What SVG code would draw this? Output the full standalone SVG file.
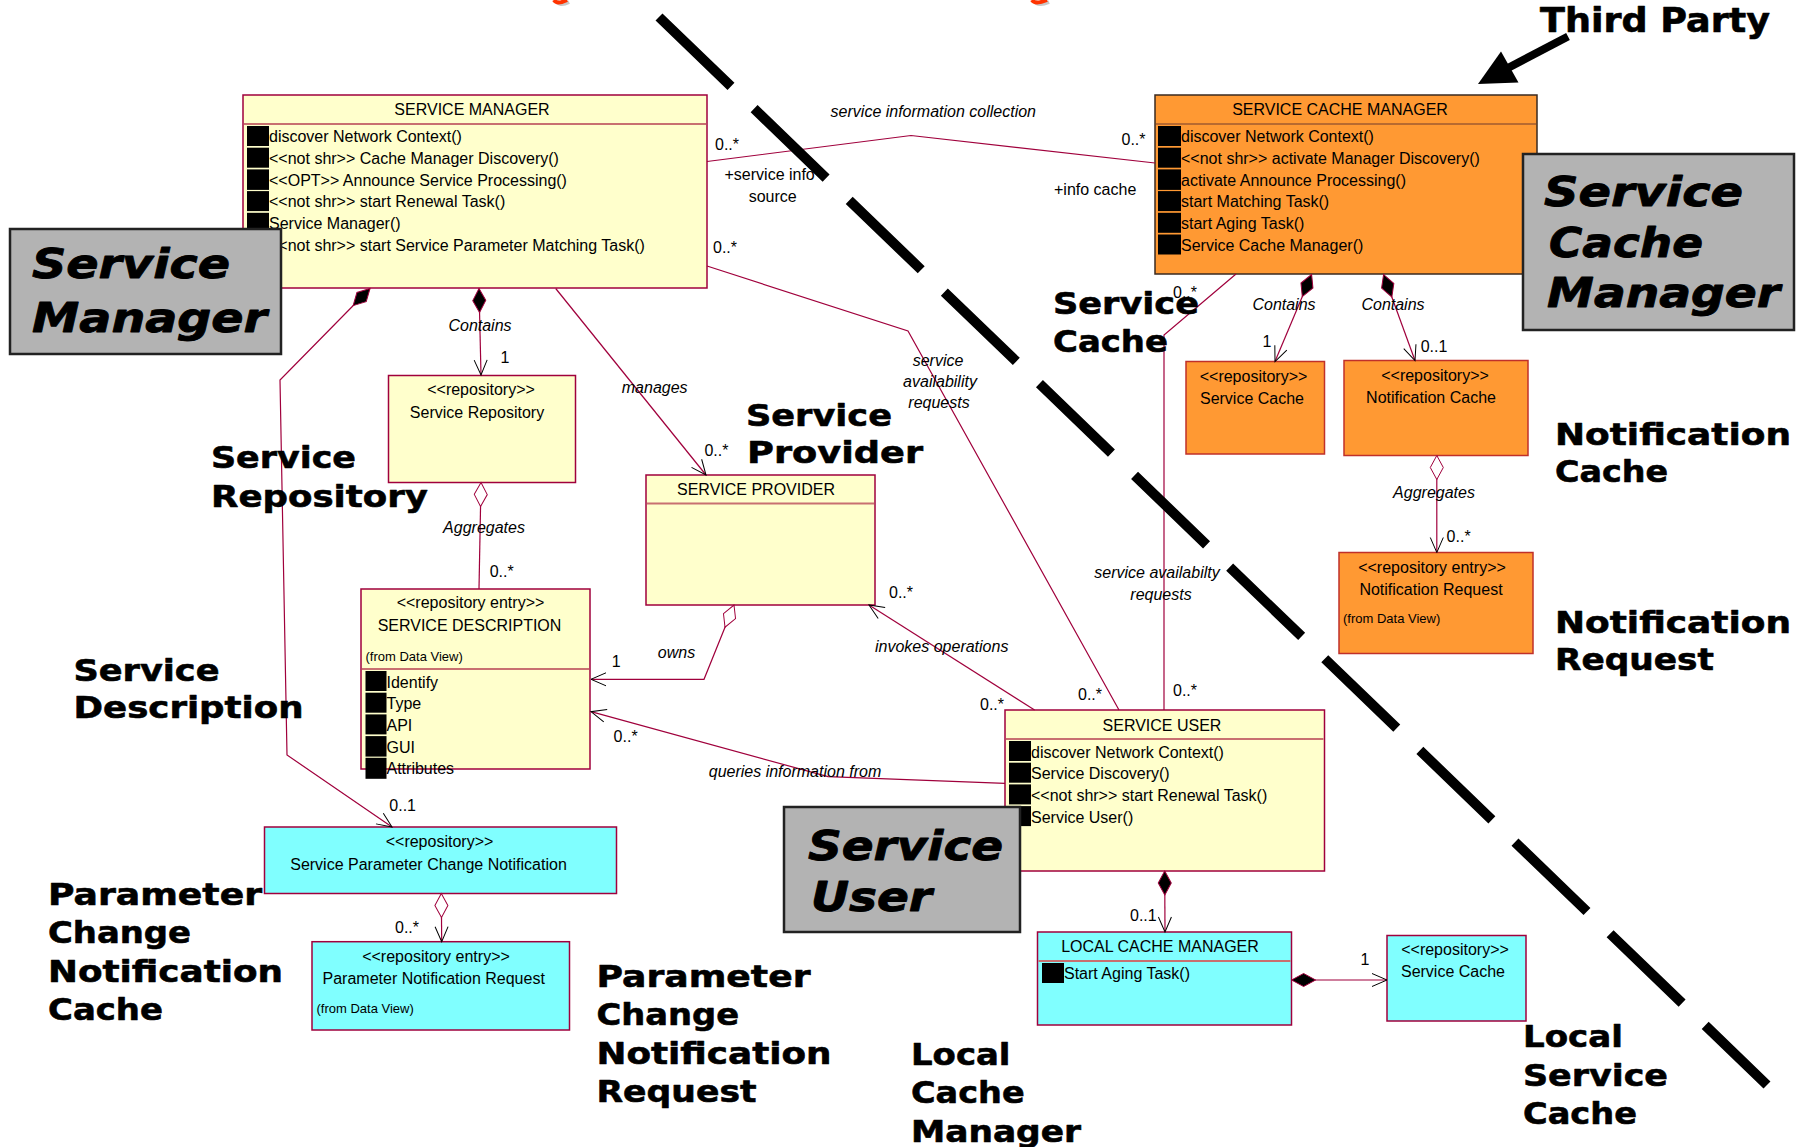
<svg xmlns="http://www.w3.org/2000/svg" width="1802" height="1147" viewBox="0 0 1802 1147">
<style>
.cls{fill:#FFFFCC;stroke:#A0003C;stroke-width:1.5}
.cyan{fill:#80FFFF;stroke:#A0003C;stroke-width:1.5}
.orng{fill:#FF9933;stroke:#C0302A;stroke-width:1.5}
.scm{fill:#FF9933;stroke:#3a2a20;stroke-width:1.5}
.hdr{stroke:#C87070;stroke-width:2}
.t{font-family:"Liberation Sans",Arial,sans-serif;font-size:16px;fill:#000}
.ti{font-style:italic}
.sm{font-size:13px}
.mid{text-anchor:middle}
.big{font-family:"DejaVu Sans",sans-serif;font-weight:bold;font-size:31px;fill:#000;stroke:#000;stroke-width:0.6px;stroke-linejoin:round}
.bigi{font-style:italic;font-size:41px;stroke-width:0.9px}
.sq{fill:#000}
.conn{fill:none;stroke:#A0003C;stroke-width:1.2}
.gray{fill:#B3B3B3;stroke:#222;stroke-width:2.5}
</style>
<defs>
<marker id="arr" markerUnits="userSpaceOnUse" orient="auto" overflow="visible" refX="0" refY="0"><path d="M-15,-6.5 L0,0 L-15,6.5" fill="none" stroke="#000" stroke-width="1"/></marker>
<marker id="dfill" markerUnits="userSpaceOnUse" orient="auto" overflow="visible" refX="0" refY="0"><path d="M0,0 L12,-6.5 L24,0 L12,6.5 Z" fill="#000" stroke="#A0003C" stroke-width="1"/></marker>
<marker id="dhol" markerUnits="userSpaceOnUse" orient="auto" overflow="visible" refX="0" refY="0"><path d="M0,0 L12,-6.5 L24,0 L12,6.5 Z" fill="#fff" stroke="#A0003C" stroke-width="1"/></marker>
</defs>
<rect width="1802" height="1147" fill="#fff"/>

<!-- top cut-off fragments -->
<path d="M556,0 Q559,7 569,2" fill="none" stroke="#C8C8C8" stroke-width="4"/>
<path d="M554,0 Q557,5 567,0" fill="none" stroke="#FF3300" stroke-width="4"/>
<path d="M1034,0 Q1037,7 1049,2" fill="none" stroke="#C8C8C8" stroke-width="4"/>
<path d="M1032,0 Q1035,5 1047,0" fill="none" stroke="#FF3300" stroke-width="4"/>

<!-- SERVICE MANAGER -->
<g id="service-manager">
<rect class="cls" x="243" y="95" width="464" height="193"/>
<line class="hdr" x1="244" y1="124" x2="706" y2="124"/>
<text class="t mid" x="472" y="115">SERVICE MANAGER</text>
<rect class="sq" x="247" y="126" width="22" height="20"/>
<rect class="sq" x="247" y="147.7" width="22" height="20"/>
<rect class="sq" x="247" y="169.4" width="22" height="20.5"/>
<rect class="sq" x="247" y="191.1" width="22" height="20"/>
<rect class="sq" x="247" y="212.8" width="22" height="20"/>
<rect class="sq" x="247" y="234.5" width="22" height="20"/>
<text class="t" x="269" y="142">discover Network Context()</text>
<text class="t" x="269" y="164">&lt;&lt;not shr&gt;&gt; Cache Manager Discovery()</text>
<text class="t" x="269" y="186">&lt;&lt;OPT&gt;&gt; Announce Service Processing()</text>
<text class="t" x="269" y="207">&lt;&lt;not shr&gt;&gt; start Renewal Task()</text>
<text class="t" x="269" y="229">Service Manager()</text>
<text class="t" x="269" y="251">&lt;&lt;not shr&gt;&gt; start Service Parameter Matching Task()</text>
</g>

<!-- SERVICE CACHE MANAGER -->
<g id="service-cache-manager">
<rect class="scm" x="1155" y="95" width="382" height="179"/>
<line x1="1156" y1="124" x2="1536" y2="124" stroke="#B86A30" stroke-width="2"/>
<text class="t mid" x="1340" y="115">SERVICE CACHE MANAGER</text>
<rect class="sq" x="1158" y="126" width="23" height="20"/>
<rect class="sq" x="1158" y="147.7" width="23" height="20"/>
<rect class="sq" x="1158" y="169.4" width="23" height="20.5"/>
<rect class="sq" x="1158" y="191.1" width="23" height="20"/>
<rect class="sq" x="1158" y="212.8" width="23" height="20"/>
<rect class="sq" x="1158" y="234.5" width="23" height="20"/>
<text class="t" x="1181" y="142">discover Network Context()</text>
<text class="t" x="1181" y="164">&lt;&lt;not shr&gt;&gt; activate Manager Discovery()</text>
<text class="t" x="1181" y="186">activate Announce Processing()</text>
<text class="t" x="1181" y="207">start Matching Task()</text>
<text class="t" x="1181" y="229">start Aging Task()</text>
<text class="t" x="1181" y="251">Service Cache Manager()</text>
</g>

<!-- Service Repository -->
<g id="service-repository">
<rect class="cls" x="388.5" y="375.5" width="187" height="107"/>
<text class="t mid" x="481" y="395">&lt;&lt;repository&gt;&gt;</text>
<text class="t mid" x="477" y="418">Service Repository</text>
</g>

<!-- SERVICE PROVIDER -->
<g id="service-provider">
<rect class="cls" x="646" y="475" width="229" height="130"/>
<line class="hdr" x1="647" y1="503.5" x2="874" y2="503.5"/>
<text class="t mid" x="756" y="495">SERVICE PROVIDER</text>
</g>

<!-- SERVICE DESCRIPTION -->
<g id="service-description">
<rect class="cls" x="361" y="589" width="229" height="180"/>
<line class="hdr" x1="362" y1="669" x2="589" y2="669"/>
<text class="t mid" x="470.5" y="608">&lt;&lt;repository entry&gt;&gt;</text>
<text class="t mid" x="469.5" y="631">SERVICE DESCRIPTION</text>
<text class="t sm" x="365.5" y="661">(from Data View)</text>
<rect class="sq" x="365.5" y="671" width="21" height="20"/>
<rect class="sq" x="365.5" y="692.7" width="21" height="20"/>
<rect class="sq" x="365.5" y="714.4" width="21" height="20"/>
<rect class="sq" x="365.5" y="736.1" width="21" height="20.5"/>
<rect class="sq" x="365.5" y="757.8" width="21" height="21"/>
<text class="t" x="386.5" y="687.5">Identify</text>
<text class="t" x="386.5" y="709.2">Type</text>
<text class="t" x="386.5" y="730.9">API</text>
<text class="t" x="386.5" y="752.6">GUI</text>
<text class="t" x="386.5" y="774.3">Attributes</text>
</g>

<!-- SERVICE USER -->
<g id="service-user">
<rect class="cls" x="1005" y="710" width="319.5" height="161"/>
<line class="hdr" x1="1006" y1="739" x2="1323.5" y2="739"/>
<text class="t mid" x="1162" y="731">SERVICE USER</text>
<rect class="sq" x="1009" y="741" width="22" height="20"/>
<rect class="sq" x="1009" y="762.7" width="22" height="20"/>
<rect class="sq" x="1009" y="784.4" width="22" height="20"/>
<rect class="sq" x="1009" y="806.1" width="22" height="20"/>
<text class="t" x="1031" y="757.5">discover Network Context()</text>
<text class="t" x="1031" y="779.2">Service Discovery()</text>
<text class="t" x="1031" y="800.9">&lt;&lt;not shr&gt;&gt; start Renewal Task()</text>
<text class="t" x="1031" y="822.6">Service User()</text>
</g>

<!-- LOCAL CACHE MANAGER -->
<g id="local-cache-manager">
<rect class="cyan" x="1037.5" y="932" width="254" height="93"/>
<line class="hdr" x1="1038.5" y1="961" x2="1290.5" y2="961"/>
<text class="t mid" x="1160" y="952">LOCAL CACHE MANAGER</text>
<rect class="sq" x="1042" y="963" width="22" height="20"/>
<text class="t" x="1064" y="978.5">Start Aging Task()</text>
</g>

<!-- Local Service Cache -->
<g id="local-service-cache">
<rect class="cyan" x="1387" y="935.5" width="139" height="85.5"/>
<text class="t mid" x="1455" y="955">&lt;&lt;repository&gt;&gt;</text>
<text class="t mid" x="1453" y="977">Service Cache</text>
</g>

<!-- Service Cache (orange) -->
<g id="service-cache">
<rect class="orng" x="1186" y="361.5" width="138.5" height="92.5"/>
<text class="t mid" x="1253.5" y="382">&lt;&lt;repository&gt;&gt;</text>
<text class="t mid" x="1252" y="403.5">Service Cache</text>
</g>

<!-- Notification Cache -->
<g id="notification-cache">
<rect class="orng" x="1344" y="360.5" width="184" height="95"/>
<text class="t mid" x="1435" y="381">&lt;&lt;repository&gt;&gt;</text>
<text class="t mid" x="1431" y="403">Notification Cache</text>
</g>

<!-- Notification Request -->
<g id="notification-request">
<rect class="orng" x="1339" y="552.5" width="194" height="101"/>
<text class="t mid" x="1432" y="573">&lt;&lt;repository entry&gt;&gt;</text>
<text class="t mid" x="1431" y="595">Notification Request</text>
<text class="t sm" x="1343" y="623">(from Data View)</text>
</g>

<!-- Service Parameter Change Notification -->
<g id="service-parameter-change-notification">
<rect class="cyan" x="264.5" y="827" width="352" height="66.5"/>
<text class="t mid" x="439.5" y="847">&lt;&lt;repository&gt;&gt;</text>
<text class="t mid" x="428.5" y="869.5">Service Parameter Change Notification</text>
</g>

<!-- Parameter Notification Request -->
<g id="parameter-notification-request">
<rect class="cyan" x="312" y="941.7" width="257.5" height="88.3"/>
<text class="t mid" x="436" y="962">&lt;&lt;repository entry&gt;&gt;</text>
<text class="t mid" x="433.7" y="983.5">Parameter Notification Request</text>
<text class="t sm" x="316.5" y="1013">(from Data View)</text>
</g>

<!-- connectors -->
<g id="connectors">
<polyline class="conn" points="707,161.5 911,135.5 1155,163"/>
<polyline class="conn" points="707,266 908,331 1119,710"/>
<polyline class="conn" points="1236,274 1164,335 1164,710"/>
<line class="conn" x1="479" y1="288.5" x2="481" y2="375" marker-start="url(#dfill)" marker-end="url(#arr)"/>
<line class="conn" x1="481" y1="482.5" x2="479" y2="589" marker-start="url(#dhol)"/>
<line class="conn" x1="555.7" y1="288.5" x2="706" y2="475" marker-end="url(#arr)"/>
<polyline class="conn" points="370,288.5 280,380 287,755 392,827" marker-start="url(#dfill)" marker-end="url(#arr)"/>
<line class="conn" x1="441.3" y1="893.5" x2="441.7" y2="941.7" marker-start="url(#dhol)" marker-end="url(#arr)"/>
<polyline class="conn" points="734,605 704,679.3 591,679.3" marker-start="url(#dhol)" marker-end="url(#arr)"/>
<line class="conn" x1="1034.6" y1="710" x2="869" y2="605" marker-end="url(#arr)"/>
<polyline class="conn" points="1005,783.3 828,776.7 591,711.7" marker-end="url(#arr)"/>
<line class="conn" x1="1164.7" y1="871" x2="1165" y2="932" marker-start="url(#dfill)" marker-end="url(#arr)"/>
<line class="conn" x1="1291.6" y1="980" x2="1387" y2="980" marker-start="url(#dfill)" marker-end="url(#arr)"/>
<line class="conn" x1="1311.6" y1="274.5" x2="1275" y2="361.5" marker-start="url(#dfill)" marker-end="url(#arr)"/>
<line class="conn" x1="1383.6" y1="274.5" x2="1415" y2="360.5" marker-start="url(#dfill)" marker-end="url(#arr)"/>
<line class="conn" x1="1436.8" y1="455.5" x2="1436.8" y2="552.5" marker-start="url(#dhol)" marker-end="url(#arr)"/>
</g>

<!-- connector labels -->
<g id="connector-labels">
<text class="t ti" x="830.6" y="117">service information collection</text>
<text class="t" x="715" y="149.5">0..*</text>
<text class="t" x="1121.5" y="145">0..*</text>
<text class="t" x="724.5" y="180">+service info</text>
<text class="t mid" x="772.7" y="202">source</text>
<text class="t" x="1054" y="195">+info cache</text>
<text class="t" x="713" y="252.7">0..*</text>
<text class="t ti mid" x="938" y="366">service</text>
<text class="t ti mid" x="940" y="387">availability</text>
<text class="t ti mid" x="939" y="408">requests</text>
<text class="t" x="1078" y="700">0..*</text>
<text class="t" x="1173" y="298">0..*</text>
<text class="t ti mid" x="1157" y="578">service availabilty</text>
<text class="t ti mid" x="1161" y="600">requests</text>
<text class="t" x="1173" y="696">0..*</text>
<text class="t ti mid" x="480" y="331">Contains</text>
<text class="t" x="500.6" y="363">1</text>
<text class="t ti mid" x="484" y="533">Aggregates</text>
<text class="t" x="489.7" y="577">0..*</text>
<text class="t ti mid" x="654.7" y="393">manages</text>
<text class="t" x="704.4" y="456">0..*</text>
<text class="t" x="389.3" y="811">0..1</text>
<text class="t" x="395" y="933">0..*</text>
<text class="t ti mid" x="676.5" y="658">owns</text>
<text class="t" x="611.7" y="667">1</text>
<text class="t ti mid" x="941.7" y="652">invokes operations</text>
<text class="t" x="889" y="598">0..*</text>
<text class="t" x="980" y="710">0..*</text>
<text class="t ti mid" x="795" y="777">queries information from</text>
<text class="t" x="613.6" y="742">0..*</text>
<text class="t" x="1130" y="921">0..1</text>
<text class="t" x="1360.6" y="965">1</text>
<text class="t ti mid" x="1284" y="310">Contains</text>
<text class="t" x="1262.5" y="347">1</text>
<text class="t ti mid" x="1393" y="310">Contains</text>
<text class="t" x="1420.7" y="352">0..1</text>
<text class="t ti mid" x="1434" y="498">Aggregates</text>
<text class="t" x="1446.6" y="542">0..*</text>
</g>

<!-- gray label boxes -->
<g id="label-service-manager">
<rect class="gray" x="10" y="229" width="271" height="125"/>
<text class="big bigi" x="32" y="278" textLength="198" lengthAdjust="spacingAndGlyphs">Service</text>
<text class="big bigi" x="32" y="332" textLength="235" lengthAdjust="spacingAndGlyphs">Manager</text>
</g>
<g id="label-service-cache-manager">
<rect class="gray" x="1523" y="154" width="271" height="176"/>
<text class="big bigi" x="1544" y="206" textLength="199" lengthAdjust="spacingAndGlyphs">Service</text>
<text class="big bigi" x="1549" y="257" textLength="154" lengthAdjust="spacingAndGlyphs">Cache</text>
<text class="big bigi" x="1547" y="307" textLength="233" lengthAdjust="spacingAndGlyphs">Manager</text>
</g>
<g id="label-service-user">
<rect class="gray" x="784" y="807" width="236" height="125"/>
<text class="big bigi" x="808" y="860" textLength="195" lengthAdjust="spacingAndGlyphs">Service</text>
<text class="big bigi" x="811" y="911" textLength="121" lengthAdjust="spacingAndGlyphs">User</text>
</g>

<!-- big plain labels -->
<g id="labels">
<text class="big" x="1540" y="32" style="font-size:33px" textLength="230" lengthAdjust="spacingAndGlyphs">Third Party</text>
<text class="big" x="1053" y="314" textLength="146" lengthAdjust="spacingAndGlyphs">Service</text>
<text class="big" x="1053" y="352" textLength="115" lengthAdjust="spacingAndGlyphs">Cache</text>
<text class="big" x="746" y="426" textLength="146" lengthAdjust="spacingAndGlyphs">Service</text>
<text class="big" x="747" y="463" textLength="176" lengthAdjust="spacingAndGlyphs">Provider</text>
<text class="big" x="211" y="468" textLength="145" lengthAdjust="spacingAndGlyphs">Service</text>
<text class="big" x="211" y="507" textLength="217" lengthAdjust="spacingAndGlyphs">Repository</text>
<text class="big" x="1555" y="445" textLength="236" lengthAdjust="spacingAndGlyphs">Notification</text>
<text class="big" x="1555" y="482" textLength="113" lengthAdjust="spacingAndGlyphs">Cache</text>
<text class="big" x="1555" y="633" textLength="236" lengthAdjust="spacingAndGlyphs">Notification</text>
<text class="big" x="1555" y="670" textLength="159" lengthAdjust="spacingAndGlyphs">Request</text>
<text class="big" x="73.5" y="681" textLength="146" lengthAdjust="spacingAndGlyphs">Service</text>
<text class="big" x="73.5" y="718" textLength="230" lengthAdjust="spacingAndGlyphs">Description</text>
<text class="big" x="48" y="905" textLength="214" lengthAdjust="spacingAndGlyphs">Parameter</text>
<text class="big" x="48" y="943" textLength="143" lengthAdjust="spacingAndGlyphs">Change</text>
<text class="big" x="48" y="982" textLength="235" lengthAdjust="spacingAndGlyphs">Notification</text>
<text class="big" x="48" y="1020" textLength="115" lengthAdjust="spacingAndGlyphs">Cache</text>
<text class="big" x="596.5" y="987" textLength="214" lengthAdjust="spacingAndGlyphs">Parameter</text>
<text class="big" x="596.5" y="1025" textLength="142.5" lengthAdjust="spacingAndGlyphs">Change</text>
<text class="big" x="596.5" y="1064" textLength="235" lengthAdjust="spacingAndGlyphs">Notification</text>
<text class="big" x="596.5" y="1102" textLength="160" lengthAdjust="spacingAndGlyphs">Request</text>
<text class="big" x="911" y="1065" textLength="99.5" lengthAdjust="spacingAndGlyphs">Local</text>
<text class="big" x="911" y="1103" textLength="113.6" lengthAdjust="spacingAndGlyphs">Cache</text>
<text class="big" x="911" y="1142" textLength="170" lengthAdjust="spacingAndGlyphs">Manager</text>
<text class="big" x="1523" y="1047" textLength="100" lengthAdjust="spacingAndGlyphs">Local</text>
<text class="big" x="1523" y="1086" textLength="145" lengthAdjust="spacingAndGlyphs">Service</text>
<text class="big" x="1523" y="1124" textLength="114" lengthAdjust="spacingAndGlyphs">Cache</text>
</g>

<!-- third party arrow -->
<g id="third-party-arrow">
<line x1="1568" y1="36.5" x2="1506" y2="69" stroke="#000" stroke-width="8"/>
<polygon points="1478,84 1501,51.5 1518.5,82.5" fill="#000"/>
</g>

<!-- boundary dashed line -->
<g id="boundary">
<line x1="659" y1="17" x2="1767" y2="1085" stroke="#000" stroke-width="10" stroke-dasharray="100 32.1"/>
</g>
</svg>
